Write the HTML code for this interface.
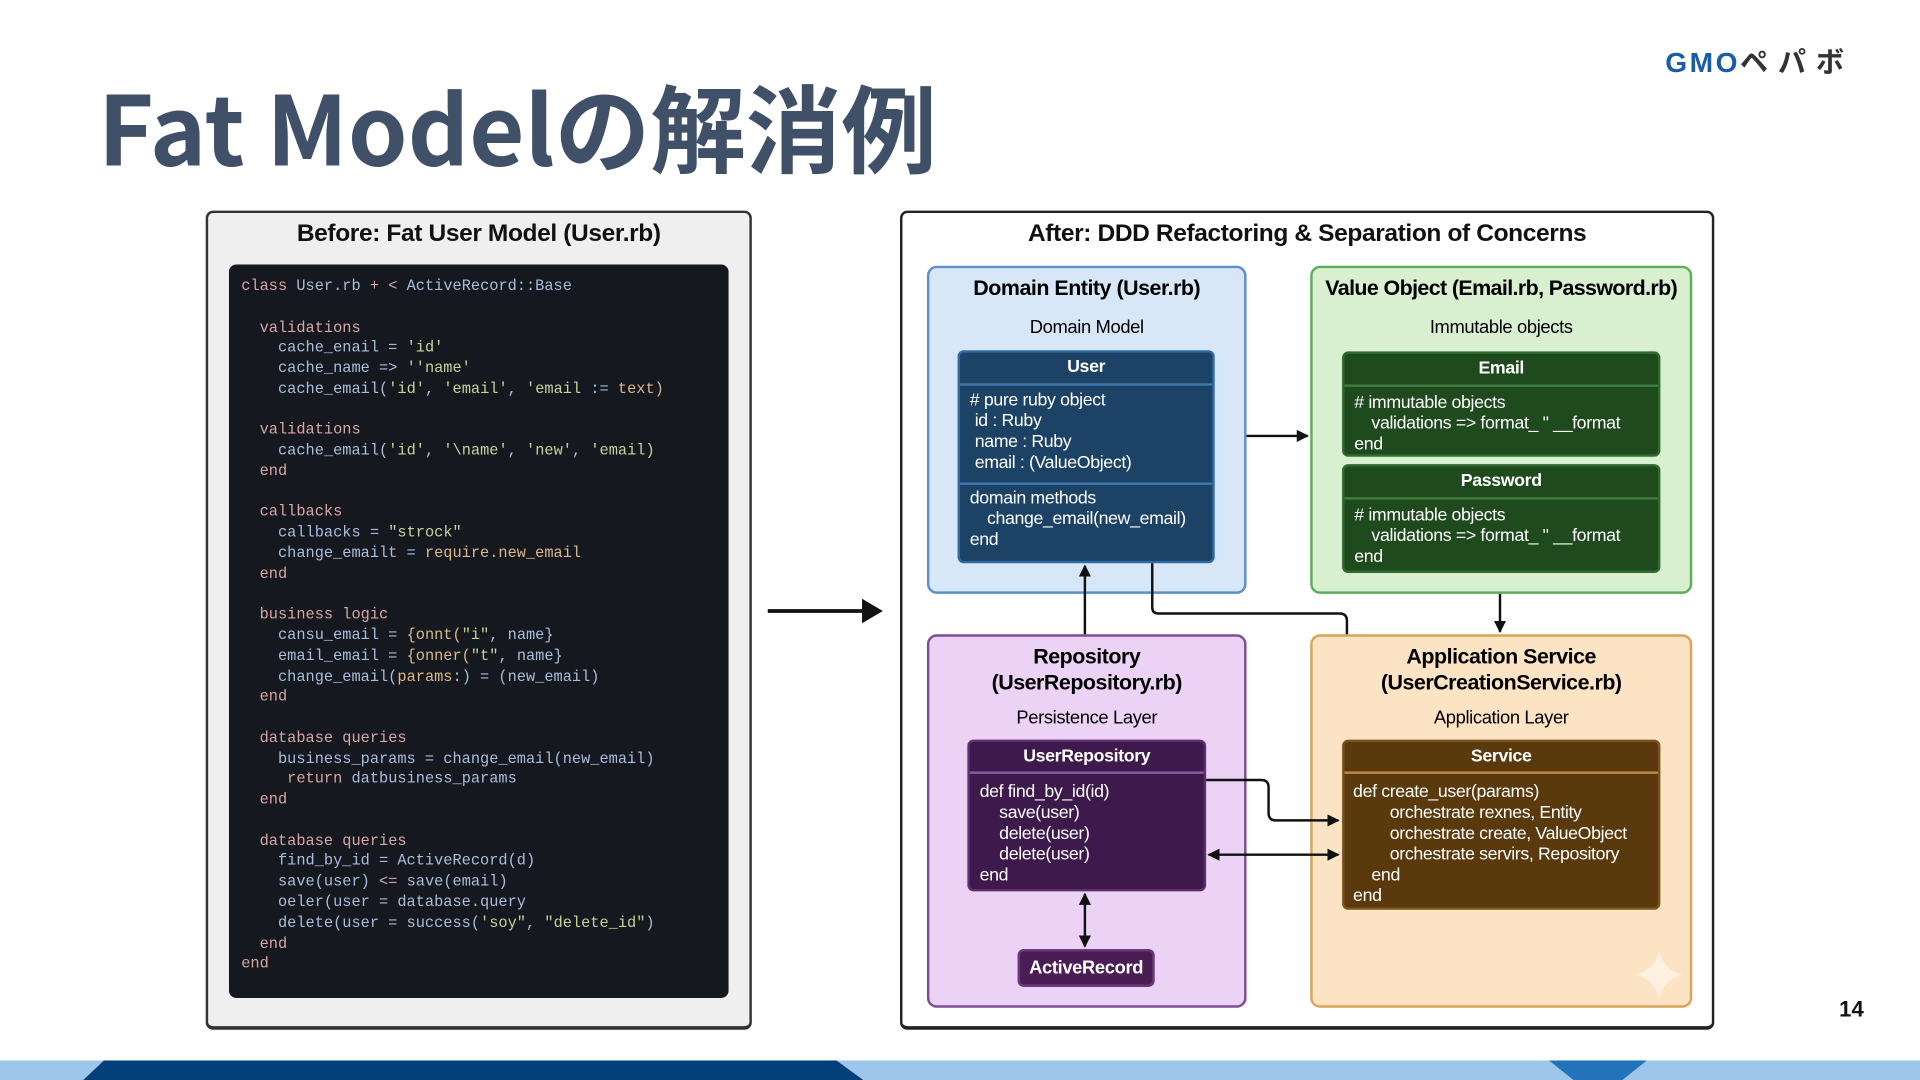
<!DOCTYPE html>
<html><head><meta charset="utf-8"><style>
*{margin:0;padding:0;box-sizing:border-box}
html,body{width:1920px;height:1080px;overflow:hidden;background:#fff}
#s{position:absolute;left:0;top:0;width:1568px;height:882px;transform:scale(1.22449);transform-origin:0 0;font-family:"Liberation Sans",Arial,sans-serif}
.a{position:absolute}
.c{position:absolute;text-align:center;white-space:nowrap}
.l{position:absolute;white-space:nowrap}
.b{font-weight:bold}
.code{position:absolute;left:197px;top:226px;font-family:"Liberation Mono",monospace;font-size:12.5px;line-height:16.76px;white-space:pre;color:#a9bddb}
.k{color:#d7a6a6}.s{color:#c4d49a}.o{color:#d9b98a}
.card{position:absolute;border-radius:5px;color:#fff;font-size:14.5px;letter-spacing:-0.3px}
.card .l{line-height:17px}
</style></head><body><div id="s">
<!-- title -->
<div class="l b" style="left:80px;top:63px;font-size:78px;line-height:78px;color:#3f5068;font-family:'Noto Sans CJK JP','Liberation Sans',sans-serif">Fat Modelの解消例</div>
<!-- logo -->
<div class="l b" style="left:1360px;top:38px;font-size:23px;line-height:26px;color:#1a5ca8;letter-spacing:2px;font-family:'Liberation Sans','Noto Sans CJK JP',sans-serif">GMO<span style="color:#333;font-size:23px;letter-spacing:8px">ペパボ</span></div>
<div class="l b" style="left:1502px;top:812px;font-size:18px;line-height:24px;color:#111">14</div>
<!-- bottom bar -->
<svg class="a" style="left:0;top:866px" width="1568" height="16"><rect width="1568" height="16" fill="#9dc6ea"/><polygon points="85,0 683,0 705,16 68,16" fill="#03407a"/><polygon points="1265,0 1345,0 1325,16 1285,16" fill="#2273b9"/></svg>

<!-- left panel -->
<div class="a" style="left:168px;top:172px;width:446px;height:669px;background:#efefef;border:2px solid #333;border-bottom-width:3px;border-radius:6px"></div>
<div class="c b" style="left:168px;width:446px;top:180px;font-size:20px;line-height:22px;color:#111;letter-spacing:-0.3px">Before: Fat User Model (User.rb)</div>
<div class="a" style="left:187px;top:216px;width:408px;height:599px;background:#15181f;border-radius:6px"></div>
<div class="code"><span class="k">class</span> User.rb <span class="k">+ &lt;</span> ActiveRecord::Base

  <span class="k">validations</span>
    cache_enail = <span class="s">'id'</span>
    cache_name =&gt; <span class="s">''name'</span>
    cache_email(<span class="s">'id'</span>, <span class="s">'email'</span>, <span class="s">'email</span> := <span class="o">text)</span>

  <span class="k">validations</span>
    cache_email(<span class="s">'id'</span>, <span class="s">'\name'</span>, <span class="s">'new'</span>, <span class="s">'email)</span>
  <span class="k">end</span>

  <span class="k">callbacks</span>
    callbacks = <span class="s">"strock"</span>
    change_emailt = <span class="o">require.new_email</span>
  <span class="k">end</span>

  <span class="k">business logic</span>
    cansu_email = <span class="o">{onnt(</span><span class="s">"i"</span>, name}
    email_email = <span class="o">{onner(</span><span class="s">"t"</span>, name}
    change_email(<span class="o">params</span>:) = (new_email)
  <span class="k">end</span>

  <span class="k">database queries</span>
    business_params = change_email(new_email)
     <span class="k">return</span> datbusiness_params
  <span class="k">end</span>

  <span class="k">database queries</span>
    find_by_id = ActiveRecord(d)
    save(user) <span class="k">&lt;=</span> save(email)
    oeler(user = database.query
    delete(user = success(<span class="s">'soy"</span>, <span class="s">"delete_id"</span>)
  <span class="k">end</span>
<span class="k">end</span></div>

<!-- big arrow -->
<svg class="a" style="left:620px;top:485px" width="110" height="30"><line x1="7" y1="14" x2="88" y2="14" stroke="#111" stroke-width="3"/><polygon points="84,4 101,14 84,24" fill="#111"/></svg>

<!-- right panel -->
<div class="a" style="left:735px;top:172px;width:665px;height:669px;background:#fff;border:2px solid #222;border-bottom-width:3px;border-radius:6px"></div>
<div class="c b" style="left:735px;width:665px;top:180px;font-size:20px;line-height:22px;color:#111;letter-spacing:-0.3px">After: DDD Refactoring &amp; Separation of Concerns</div>

<!-- domain entity -->
<div class="a" style="left:757px;top:217px;width:261px;height:268px;background:#d7e7f8;border:2px solid #5b90c8;border-radius:8px"></div>
<div class="c b" style="left:757px;width:261px;top:225px;font-size:17.5px;line-height:20px;letter-spacing:-0.4px">Domain Entity (User.rb)</div>
<div class="c" style="left:757px;width:261px;top:259px;font-size:15px;line-height:18px;letter-spacing:-0.3px">Domain Model</div>
<div class="card" style="left:782px;top:286px;width:210px;height:174px;background:#1c4266;border:2px solid #2e6ba2">
<div class="c b" style="left:0;width:206px;top:4px;line-height:17px">User</div>
<div class="a" style="left:0;top:25px;width:206px;height:2px;background:#3f78ad"></div>
<div class="l" style="left:8px;top:31px"># pure ruby object</div>
<div class="l" style="left:12px;top:48px">id : Ruby</div>
<div class="l" style="left:12px;top:65px">name : Ruby</div>
<div class="l" style="left:12px;top:82px">email : (ValueObject)</div>
<div class="a" style="left:0;top:106px;width:206px;height:2px;background:#3f78ad"></div>
<div class="l" style="left:8px;top:111px">domain methods</div>
<div class="l" style="left:22px;top:128px">change_email(new_email)</div>
<div class="l" style="left:8px;top:145px">end</div>
</div>

<!-- value object -->
<div class="a" style="left:1070px;top:217px;width:312px;height:268px;background:#d8f0d0;border:2px solid #5cae5c;border-radius:8px"></div>
<div class="c b" style="left:1070px;width:312px;top:225px;font-size:17.5px;line-height:20px;letter-spacing:-0.5px">Value Object (Email.rb, Password.rb)</div>
<div class="c" style="left:1070px;width:312px;top:259px;font-size:15px;line-height:18px;letter-spacing:-0.3px">Immutable objects</div>
<div class="card" style="left:1096px;top:287px;width:260px;height:86px;background:#1e4a1e;border:2px solid #2f6a2f">
<div class="c b" style="left:0;width:256px;top:4px;line-height:17px">Email</div>
<div class="a" style="left:0;top:25px;width:256px;height:2px;background:#3f7a3f"></div>
<div class="l" style="left:8px;top:32px"># immutable objects</div>
<div class="l" style="left:22px;top:49px">validations =&gt; format_ " __format</div>
<div class="l" style="left:8px;top:66px">end</div>
</div>
<div class="card" style="left:1096px;top:379px;width:260px;height:89px;background:#1e4a1e;border:2px solid #2f6a2f">
<div class="c b" style="left:0;width:256px;top:4px;line-height:17px">Password</div>
<div class="a" style="left:0;top:25px;width:256px;height:2px;background:#3f7a3f"></div>
<div class="l" style="left:8px;top:32px"># immutable objects</div>
<div class="l" style="left:22px;top:49px">validations =&gt; format_ " __format</div>
<div class="l" style="left:8px;top:66px">end</div>
</div>

<!-- repository -->
<div class="a" style="left:757px;top:518px;width:261px;height:305px;background:#ecd3f6;border:2px solid #7b4f93;border-radius:8px"></div>
<div class="c b" style="left:757px;width:261px;top:526px;font-size:17.5px;line-height:20.5px;letter-spacing:-0.4px">Repository<br>(UserRepository.rb)</div>
<div class="c" style="left:757px;width:261px;top:578px;font-size:15px;line-height:18px;letter-spacing:-0.3px">Persistence Layer</div>
<div class="card" style="left:790px;top:604px;width:195px;height:124px;background:#3e1a4c;border:2px solid #5c2f6e">
<div class="c b" style="left:0;width:191px;top:4px;line-height:17px">UserRepository</div>
<div class="a" style="left:0;top:24px;width:191px;height:2px;background:#8a5aa0"></div>
<div class="l" style="left:8px;top:33px">def find_by_id(id)</div>
<div class="l" style="left:24px;top:50px">save(user)</div>
<div class="l" style="left:24px;top:67px">delete(user)</div>
<div class="l" style="left:24px;top:84px">delete(user)</div>
<div class="l" style="left:8px;top:101px">end</div>
</div>
<div class="card b" style="left:831px;top:775px;width:112px;height:31px;background:#4a1d54;border:2px solid #6a3a78;text-align:center;line-height:27px;font-size:15px">ActiveRecord</div>

<!-- application service -->
<div class="a" style="left:1070px;top:518px;width:312px;height:305px;background:#fce3c3;border:2px solid #d9a55a;border-radius:8px"></div>
<div class="c b" style="left:1070px;width:312px;top:526px;font-size:17.5px;line-height:20.5px;letter-spacing:-0.4px">Application Service<br>(UserCreationService.rb)</div>
<div class="c" style="left:1070px;width:312px;top:578px;font-size:15px;line-height:18px;letter-spacing:-0.3px">Application Layer</div>
<div class="card" style="left:1096px;top:604px;width:260px;height:139px;background:#5a3a0c;border:2px solid #7a5420">
<div class="c b" style="left:0;width:256px;top:4px;line-height:17px">Service</div>
<div class="a" style="left:0;top:24px;width:256px;height:2px;background:#c0894a"></div>
<div class="l" style="left:7px;top:33px">def create_user(params)</div>
<div class="l" style="left:37px;top:50px">orchestrate rexnes, Entity</div>
<div class="l" style="left:37px;top:67px">orchestrate create, ValueObject</div>
<div class="l" style="left:37px;top:84px">orchestrate servirs, Repository</div>
<div class="l" style="left:22px;top:101px">end</div>
<div class="l" style="left:7px;top:118px">end</div>
</div>

<!-- connectors -->
<svg class="a" style="left:0;top:0" width="1568" height="882">
<defs><marker id="m" markerWidth="10" markerHeight="10" refX="9" refY="5" orient="auto-start-reverse" markerUnits="userSpaceOnUse"><path d="M0,0 L10,5 L0,10 z" fill="#111"/></marker></defs>
<g stroke="#111" stroke-width="2" fill="none">
<line x1="1018" y1="356" x2="1068" y2="356" marker-end="url(#m)"/>
<line x1="886" y1="518" x2="886" y2="462" marker-end="url(#m)"/>
<path d="M941,460 V496 Q941,501 946,501 H1094 Q1100,501 1100,507 V518"/>
<line x1="1225" y1="485" x2="1225" y2="516" marker-end="url(#m)"/>
<path d="M985,637 H1030 Q1036,637 1036,643 V664 Q1036,670 1042,670 H1093" marker-end="url(#m)"/>
<line x1="987" y1="698" x2="1093" y2="698" marker-start="url(#m)" marker-end="url(#m)"/>
<line x1="886" y1="730" x2="886" y2="773" marker-start="url(#m)" marker-end="url(#m)"/>
</g>
<path d="M1355,776 Q1358,792 1374,796 Q1358,800 1355,816 Q1352,800 1336,796 Q1352,792 1355,776z" fill="#fff" opacity="0.5"/>
</svg>
</div></body></html>
